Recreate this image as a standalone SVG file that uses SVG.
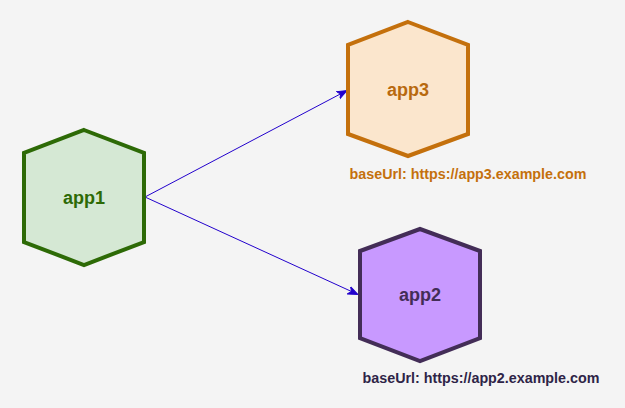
<svg xmlns="http://www.w3.org/2000/svg" width="625" height="408" viewBox="0 0 625 408">
<defs>
<style>
.hex{stroke-width:4;stroke-linejoin:miter}
.lbl{font-family:"Liberation Sans",Arial,sans-serif;font-weight:bold;text-anchor:middle;dominant-baseline:central}
.edge{fill:none;stroke:#2200cc;stroke-width:1}
</style>
<marker id="arr" viewBox="0 0 10 10" refX="9" refY="5" markerWidth="10" markerHeight="10" markerUnits="userSpaceOnUse" orient="auto">
<path d="M0,1 L10,5 L0,9 L3,5 Z" fill="#2200cc" stroke="#2200cc" stroke-width="1"/>
</marker>
</defs>
<rect width="625" height="408" fill="#f4f4f4"/>
<g id="edges">
<path class="edge" d="M145,197 L346,91" marker-end="url(#arr)"/>
<path class="edge" d="M145,197 L357,294" marker-end="url(#arr)"/>
</g>
<g id="app1">
<polygon class="hex" points="84,130 144,153 144,242 84,265 24,242 24,153" fill="#d5e8d4" stroke="#2d6a06"/>
<text class="lbl" x="84" y="198" font-size="18" fill="#2d6a06">app1</text>
</g>
<g id="app3">
<polygon class="hex" points="408,22 468,45 468,134 408,156 348,134 348,45" fill="#fbe6cd" stroke="#c4700c"/>
<text class="lbl" x="408" y="90" font-size="18" fill="#b8690e">app3</text>
<text class="lbl" x="468" y="174" font-size="14.3" fill="#c4700c">baseUrl: https://app3.example.com</text>
</g>
<g id="app2">
<polygon class="hex" points="420,229 480,251 480,338 420,361 360,338 360,251" fill="#c899ff" stroke="#432d57"/>
<text class="lbl" x="420" y="295" font-size="18" fill="#432d57">app2</text>
<text class="lbl" x="481" y="378" font-size="14.3" fill="#2e2447">baseUrl: https://app2.example.com</text>
</g>
</svg>
